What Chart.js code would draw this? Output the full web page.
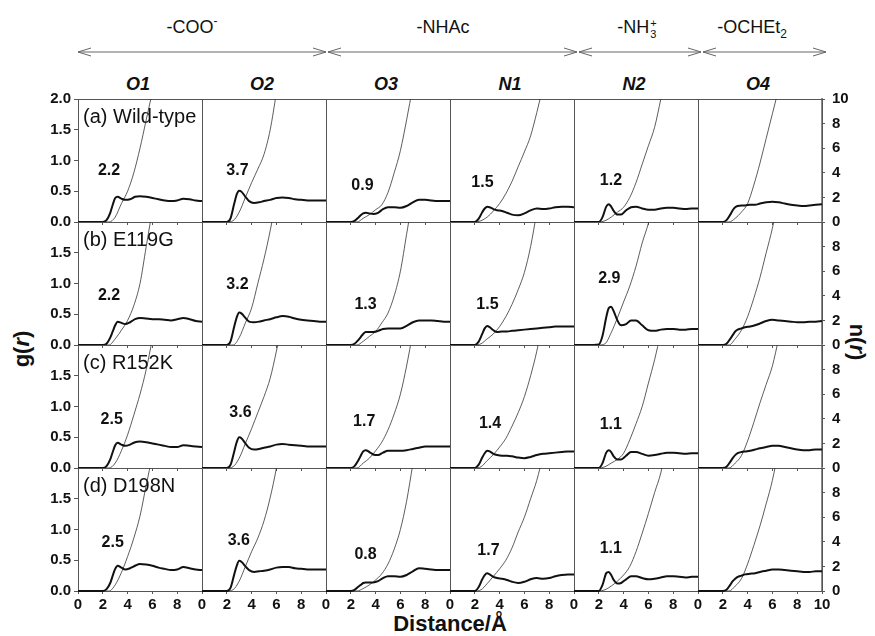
<!DOCTYPE html>
<html>
<head>
<meta charset="utf-8">
<script src="https://cdn.jsdelivr.net/npm/chart.js@4.4.1/dist/chart.umd.min.js"></script>
<style>
  body { margin: 0; background: #fff; font-family: Arial, "Liberation Sans", sans-serif; }
  #fig { position: relative; width: 875px; height: 636px; overflow: hidden; background: #fff; }
  #fig canvas { position: absolute; }
  .lbl { position: absolute; white-space: nowrap; color: #111; }
  .group { font-size: 18px; line-height: 22px; top: 16px; transform: translateX(-50%); }
  .group .sup { font-size: 12px; position: relative; top: -8px; }
  .group .sub { font-size: 12px; position: relative; top: 5px; }
  .group .ss { display: inline-flex; flex-direction: column; font-size: 11px; line-height: 11px; position: relative; top: -6px; margin-left: 1px; }
  .site { font-size: 18px; line-height: 22px; top: 73px; font-weight: bold; font-style: italic; transform: translateX(-50%); }
  .title { font-size: 22px; font-weight: bold; line-height: 26px; }
</style>
</head>
<body>
<div id="fig">
  <svg id="arrows" width="875" height="70" style="position:absolute;left:0;top:0"></svg>
</div>
<script>
// Distance grids (Å)
const distanceG = [0, 1, 2, 2.3, 2.6, 2.8, 3, 3.2, 3.5, 3.8, 4.2, 4.6, 5, 5.5, 6, 6.5, 7, 7.5, 8, 8.5, 9, 9.5, 10];
const distanceN = [0, 2, 2.5, 3, 3.5, 4, 4.5, 5, 5.5, 6, 6.5, 7, 7.5, 8];

const sites = ['O1', 'O2', 'O3', 'N1', 'N2', 'O4'];
const variants = ['(a) Wild-type', '(b) E119G', '(c) R152K', '(d) D198N'];
const xTicks = [0, 2, 4, 6, 8, 10];

// g(r), one array per site (O1, O2, O3, N1, N2, O4)
const gWildType = [
  [0,0,0,0.03,0.15,0.28,0.39,0.41,0.38,0.36,0.37,0.41,0.42,0.41,0.39,0.37,0.35,0.34,0.35,0.38,0.37,0.35,0.34],
  [0,0,0,0.06,0.30,0.45,0.51,0.49,0.41,0.34,0.31,0.32,0.34,0.36,0.39,0.40,0.39,0.37,0.36,0.35,0.35,0.35,0.35],
  [0,0,0,0.02,0.07,0.11,0.14,0.15,0.14,0.13,0.15,0.21,0.24,0.24,0.23,0.26,0.32,0.36,0.36,0.35,0.34,0.34,0.34],
  [0,0,0,0.05,0.16,0.22,0.25,0.24,0.21,0.19,0.18,0.15,0.12,0.11,0.14,0.19,0.22,0.21,0.22,0.24,0.25,0.25,0.24],
  [0,0,0,0.08,0.25,0.29,0.25,0.18,0.12,0.12,0.19,0.24,0.25,0.22,0.20,0.20,0.22,0.23,0.23,0.22,0.21,0.22,0.22],
  [0,0,0,0.03,0.12,0.19,0.24,0.26,0.27,0.27,0.28,0.28,0.30,0.32,0.33,0.32,0.30,0.28,0.27,0.26,0.27,0.28,0.29]
];
const gE119G = [
  [0,0,0,0.02,0.12,0.22,0.32,0.38,0.36,0.34,0.37,0.42,0.44,0.43,0.42,0.42,0.41,0.40,0.42,0.44,0.42,0.39,0.38],
  [0,0,0,0.06,0.30,0.45,0.53,0.51,0.44,0.38,0.37,0.38,0.40,0.42,0.45,0.47,0.46,0.43,0.41,0.40,0.39,0.38,0.38],
  [0,0,0,0.02,0.08,0.13,0.18,0.21,0.21,0.21,0.23,0.26,0.27,0.27,0.27,0.31,0.37,0.40,0.40,0.40,0.39,0.38,0.38],
  [0,0,0,0.05,0.18,0.27,0.31,0.29,0.24,0.21,0.22,0.22,0.23,0.24,0.25,0.26,0.27,0.28,0.29,0.30,0.30,0.30,0.30],
  [0,0,0.01,0.15,0.45,0.60,0.62,0.55,0.40,0.32,0.34,0.40,0.40,0.32,0.24,0.23,0.25,0.26,0.26,0.25,0.25,0.26,0.26],
  [0,0,0,0.02,0.10,0.16,0.22,0.25,0.27,0.29,0.30,0.32,0.35,0.39,0.41,0.40,0.39,0.38,0.37,0.37,0.38,0.38,0.39]
];
const gR152K = [
  [0,0,0,0.03,0.14,0.26,0.37,0.41,0.38,0.36,0.38,0.42,0.43,0.42,0.40,0.38,0.36,0.34,0.34,0.37,0.36,0.35,0.34],
  [0,0,0,0.05,0.27,0.42,0.50,0.48,0.40,0.33,0.30,0.31,0.33,0.35,0.38,0.39,0.38,0.37,0.36,0.35,0.35,0.35,0.35],
  [0,0,0,0.03,0.12,0.20,0.27,0.29,0.26,0.22,0.21,0.25,0.28,0.28,0.28,0.29,0.31,0.33,0.35,0.35,0.35,0.35,0.35],
  [0,0,0,0.05,0.17,0.24,0.28,0.27,0.23,0.21,0.20,0.20,0.19,0.17,0.16,0.18,0.21,0.23,0.24,0.25,0.26,0.27,0.27],
  [0,0,0,0.08,0.25,0.29,0.26,0.19,0.14,0.14,0.20,0.26,0.26,0.23,0.20,0.21,0.23,0.25,0.25,0.24,0.23,0.24,0.24],
  [0,0,0,0.02,0.10,0.16,0.21,0.24,0.26,0.27,0.28,0.30,0.32,0.34,0.36,0.36,0.34,0.32,0.30,0.29,0.29,0.30,0.30]
];
const gD198N = [
  [0,0,0,0.03,0.13,0.25,0.36,0.41,0.38,0.35,0.37,0.41,0.44,0.43,0.41,0.38,0.36,0.34,0.35,0.39,0.37,0.35,0.34],
  [0,0,0,0.05,0.27,0.41,0.49,0.47,0.40,0.34,0.31,0.32,0.33,0.35,0.38,0.39,0.39,0.37,0.36,0.35,0.35,0.35,0.35],
  [0,0,0,0.02,0.07,0.10,0.13,0.14,0.14,0.14,0.16,0.21,0.24,0.24,0.23,0.26,0.32,0.37,0.36,0.35,0.34,0.34,0.34],
  [0,0,0,0.06,0.19,0.26,0.29,0.27,0.23,0.21,0.20,0.18,0.15,0.13,0.15,0.19,0.21,0.20,0.21,0.24,0.26,0.27,0.27],
  [0,0,0,0.10,0.29,0.31,0.26,0.18,0.12,0.13,0.19,0.24,0.24,0.21,0.19,0.20,0.22,0.24,0.24,0.23,0.22,0.23,0.23],
  [0,0,0,0.02,0.10,0.16,0.20,0.23,0.25,0.27,0.28,0.29,0.31,0.33,0.35,0.35,0.34,0.33,0.32,0.31,0.31,0.32,0.32]
];

// n(r) on distanceN, until the curve leaves the 0-10 range
const nWildType = [
  [0, 0, 0, 0.4, 1.5, 2.5, 4.0, 6.0, 8.3, 10.6],
  [0, 0, 0.1, 0.8, 2.0, 3.2, 4.3, 5.5, 7.5, 10.5],
  [0, 0, 0, 0.3, 0.6, 1.0, 1.4, 2.4, 4.0, 5.8, 8.3, 11],
  [0, 0, 0.1, 0.4, 0.9, 1.5, 2.3, 3.3, 4.5, 5.7, 7.0, 8.9, 11],
  [0, 0, 0.1, 0.4, 0.8, 1.2, 2.0, 3.2, 4.7, 6.2, 7.7, 10, 12.5],
  [0, 0, 0, 0.3, 0.8, 1.5, 3.0, 4.8, 6.8, 8.8, 10.8]
];
const nE119G = [
  [0, 0, 0, 0.5, 1.2, 2.0, 3.2, 5.0, 8.0, 11],
  [0, 0, 0, 0.6, 1.8, 3.0, 5.0, 7.0, 9.3, 12],
  [0, 0, 0, 0.3, 0.7, 1.1, 1.8, 2.6, 4.0, 6.0, 9.0, 12],
  [0, 0, 0.1, 0.5, 0.9, 1.5, 2.3, 3.3, 4.5, 5.9, 8.0, 10.8],
  [0, 0, 0.1, 1.0, 2.2, 3.5, 4.8, 6.4, 8.3, 9.9, 12],
  [0, 0, 0, 0.5, 1.2, 2.3, 3.8, 5.5, 7.5, 9.5, 12]
];
const nR152K = [
  [0, 0, 0, 0.4, 1.4, 2.7, 4.3, 6.0, 8.0, 10.5],
  [0, 0, 0.1, 0.8, 2.0, 3.2, 4.5, 5.8, 7.3, 9.5, 12],
  [0, 0, 0, 0.4, 0.8, 1.4, 2.1, 3.1, 4.4, 6.0, 8.3, 11],
  [0, 0, 0.1, 0.6, 1.1, 1.7, 2.4, 3.4, 4.5, 5.8, 7.5, 9.5, 12],
  [0, 0, 0.1, 0.4, 0.7, 1.2, 2.3, 3.6, 5.0, 6.9, 8.8, 11],
  [0, 0, 0, 0.4, 1.0, 2.2, 3.7, 5.3, 6.8, 8.3, 10.5]
];
const nD198N = [
  [0, 0, 0, 0.5, 1.5, 2.8, 4.3, 6.1, 8.6, 11],
  [0, 0, 0.1, 0.8, 2.0, 3.2, 4.3, 5.7, 7.6, 10, 13],
  [0, 0, 0, 0.2, 0.5, 0.9, 1.4, 2.2, 3.4, 5.0, 7.3, 10.3],
  [0, 0, 0.1, 0.6, 1.2, 1.8, 2.5, 3.5, 4.8, 6.0, 7.5, 9.0, 11],
  [0, 0, 0.1, 0.4, 0.8, 1.3, 2.0, 3.2, 4.7, 6.3, 8.0, 9.6, 12],
  [0, 0, 0, 0.4, 1.0, 2.2, 3.7, 5.3, 7.1, 9.0, 11.5]
];

// coordination numbers written in each panel
const cnWildType = ['2.2', '3.7', '0.9', '1.5', '1.2', ''];
const cnE119G = ['2.2', '3.2', '1.3', '1.5', '2.9', ''];
const cnR152K = ['2.5', '3.6', '1.7', '1.4', '1.1', ''];
const cnD198N = ['2.5', '3.6', '0.8', '1.7', '1.1', ''];

const rows = [
  { g: gWildType, n: nWildType, cn: cnWildType },
  { g: gE119G, n: nE119G, cn: cnE119G },
  { g: gR152K, n: nR152K, cn: cnR152K },
  { g: gD198N, n: nD198N, cn: cnD198N }
];

// where the numbers sit, in (distance, g) units of each panel
const cnPlacement = [
  [[2.5, 0.83], [2.86, 0.84], [2.94, 0.60], [2.62, 0.64], [2.98, 0.68]],
  [[2.5, 0.81], [2.86, 0.98], [3.19, 0.65], [3.02, 0.65], [2.85, 1.08]],
  [[2.72, 0.78], [3.1, 0.90], [3.08, 0.76], [3.23, 0.73], [2.97, 0.70]],
  [[2.8, 0.79], [2.97, 0.82], [3.19, 0.60], [3.1, 0.65], [2.97, 0.69]]
];

// layout
const fig = document.getElementById('fig');
const panelLeft = 78, panelTop = 99, panelW = 124, panelH = 123;
const fontFamily = 'Arial, "Liberation Sans", sans-serif';
const tickFont = { family: fontFamily, size: 15, weight: 'bold' };

// group headers with arrows
const groups = [
  { html: '-COO<span class="sup">-</span>', from: 78, to: 326, cx: 192 },
  { html: '-NHAc', from: 328, to: 577, cx: 443 },
  { html: '-NH<span class="ss"><span>+</span><span>3</span></span>', from: 579, to: 701, cx: 637 },
  { html: '-OCHEt<span class="sub">2</span>', from: 703, to: 826, cx: 752 }
];
const svg = document.getElementById('arrows');
let svgHtml = '';
groups.forEach(gr => {
  const y = 52;
  svgHtml += `<line x1="${gr.from}" y1="${y}" x2="${gr.to}" y2="${y}" stroke="#666" stroke-width="1"/>`;
  svgHtml += `<polyline points="${gr.from + 13},${y - 4} ${gr.from},${y} ${gr.from + 13},${y + 4}" fill="none" stroke="#666" stroke-width="1"/>`;
  svgHtml += `<polyline points="${gr.to - 13},${y - 4} ${gr.to},${y} ${gr.to - 13},${y + 4}" fill="none" stroke="#666" stroke-width="1"/>`;
  const d = document.createElement('div');
  d.className = 'lbl group';
  d.style.left = gr.cx + 'px';
  d.innerHTML = gr.html;
  fig.appendChild(d);
});
svg.innerHTML = svgHtml;

sites.forEach((s, c) => {
  const d = document.createElement('div');
  d.className = 'lbl site';
  d.style.left = (panelLeft + c * panelW + panelW / 2 - 2) + 'px';
  d.textContent = s;
  fig.appendChild(d);
});

function addTitle(html, cx, cy, rot) {
  const d = document.createElement('div');
  d.className = 'lbl title';
  d.style.left = cx + 'px';
  d.style.top = cy + 'px';
  d.style.transform = 'translate(-50%, -50%)' + (rot ? ` rotate(${rot}deg)` : '');
  d.innerHTML = html;
  fig.appendChild(d);
}
addTitle('g(<i>r</i>)', 22, 349, -90);
addTitle('n(<i>r</i>)', 857, 342, 90);
addTitle('Distance/Å', 450, 624, 0);

// panel decoration: frame, variant name and coordination number
const panelDecor = {
  id: 'panelDecor',
  beforeDatasetsDraw(chart, args, opts) {
    const { ctx, chartArea: a, scales } = chart;
    ctx.save();
    ctx.strokeStyle = '#555';
    ctx.lineWidth = 1;
    ctx.strokeRect(Math.round(a.left) + 0.5, Math.round(a.top) + 0.5,
      Math.round(a.right - a.left), Math.round(a.bottom - a.top));
    ctx.fillStyle = '#111';
    if (opts.variant) {
      ctx.font = '20px ' + fontFamily;
      ctx.textAlign = 'left';
      ctx.textBaseline = 'middle';
      ctx.fillText(opts.variant, a.left + 5, a.top + 18);
    }
    if (opts.cn) {
      ctx.font = 'bold 16px ' + fontFamily;
      ctx.textAlign = 'center';
      ctx.textBaseline = 'middle';
      ctx.fillText(opts.cn, scales.x.getPixelForValue(opts.at[0]), scales.g.getPixelForValue(opts.at[1]));
    }
    ctx.restore();
  }
};

function buildPanel(r, c) {
  const row = rows[r];
  const first = c === 0, last = c === sites.length - 1, bottom = r === rows.length - 1;
  const mL = first ? 46 : 6, mR = last ? 46 : 6, mT = 6, mB = bottom ? 30 : 6;
  const L = panelLeft + c * panelW, T = panelTop + r * panelH;

  const canvas = document.createElement('canvas');
  canvas.width = mL + panelW + mR;
  canvas.height = mT + panelH + mB;
  canvas.style.left = (L - mL) + 'px';
  canvas.style.top = (T - mT) + 'px';
  fig.appendChild(canvas);

  const gData = distanceG.map((x, i) => ({ x: x, y: row.g[c][i] }));
  const nData = row.n[c].map((y, i) => ({ x: distanceN[i], y: y }));

  new Chart(canvas, {
    type: 'line',
    data: {
      datasets: [
        {
          label: 'g(r)',
          data: gData,
          xAxisID: 'x',
          yAxisID: 'g',
          borderColor: '#111',
          borderWidth: 2,
          pointRadius: 0,
          fill: false,
          cubicInterpolationMode: 'monotone',
          clip: { left: 0, right: 0, top: 0, bottom: 2 }
        },
        {
          label: 'n(r)',
          data: nData,
          xAxisID: 'x',
          yAxisID: 'n',
          borderColor: '#333',
          borderWidth: 0.8,
          pointRadius: 0,
          fill: false,
          cubicInterpolationMode: 'monotone'
        }
      ]
    },
    options: {
      responsive: false,
      animation: false,
      devicePixelRatio: 1,
      events: [],
      layout: { padding: { left: first ? 0 : 6, right: last ? 0 : 6, top: mT, bottom: 0 } },
      plugins: {
        legend: { display: false },
        tooltip: { enabled: false },
        panelDecor: {
          variant: first ? variants[r] : '',
          cn: row.cn[c],
          at: cnPlacement[r][c] || [0, 0]
        }
      },
      scales: {
        x: {
          type: 'linear',
          min: 0,
          max: 10,
          afterBuildTicks: s => { s.ticks = xTicks.map(v => ({ value: v })); },
          ticks: {
            display: bottom,
            font: tickFont,
            color: '#111',
            padding: 2,
            maxRotation: 0,
            autoSkip: false,
            callback: v => (v === 10 && !last) ? '' : String(v)
          },
          grid: { drawOnChartArea: false, drawTicks: true, tickLength: 3, color: '#555' },
          border: { display: false },
          afterFit: s => { s.height = mB; s.paddingLeft = 0; s.paddingRight = 0; }
        },
        g: {
          type: 'linear',
          position: 'left',
          min: 0,
          max: 2,
          display: first,
          ticks: {
            stepSize: 0.5,
            font: tickFont,
            color: '#111',
            padding: 3,
            callback: v => (v === 2 && r > 0) ? '' : v.toFixed(1)
          },
          grid: { drawOnChartArea: false, tickLength: 4, color: '#555' },
          border: { display: false },
          afterFit: s => { if (first) s.width = mL; s.paddingTop = 0; s.paddingBottom = 0; }
        },
        n: {
          type: 'linear',
          position: 'right',
          min: 0,
          max: 10,
          display: last,
          ticks: {
            stepSize: 2,
            font: tickFont,
            color: '#111',
            padding: 7,
            callback: v => (v === 10 && r > 0) ? '' : String(v)
          },
          grid: { drawOnChartArea: false, tickLength: 3, color: '#555' },
          border: { display: true, color: '#8a8a8a', width: 2 },
          afterFit: s => { if (last) s.width = mR; s.paddingTop = 0; s.paddingBottom = 0; }
        }
      }
    },
    plugins: [panelDecor]
  });
}

for (let r = 0; r < rows.length; r++) {
  for (let c = 0; c < sites.length; c++) {
    buildPanel(r, c);
  }
}
</script>
</body>
</html>
